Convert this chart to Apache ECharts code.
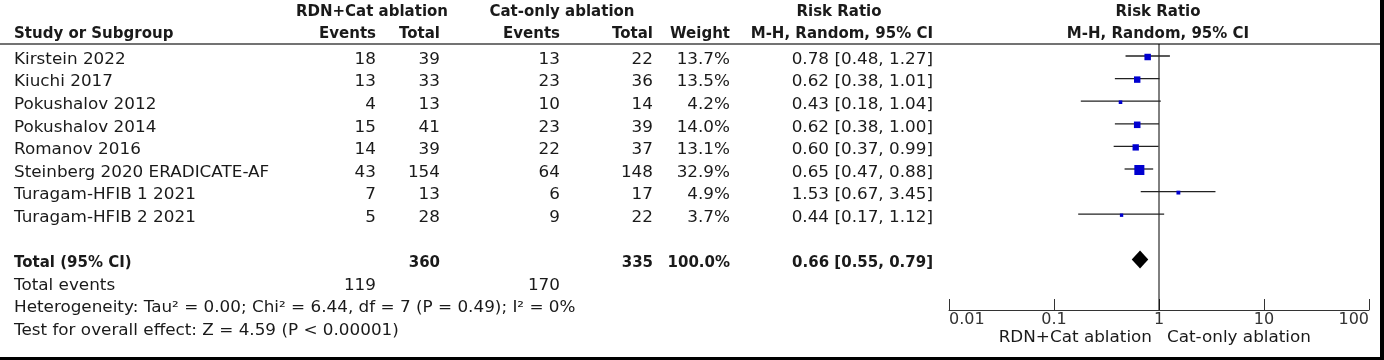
<!DOCTYPE html>
<html><head><meta charset="utf-8">
<script src="https://cdn.jsdelivr.net/npm/echarts@6/dist/echarts.min.js"></script>
<style>html,body{margin:0;padding:0;background:#fff}#c{width:1384px;height:360px}</style>
</head><body><div id="c"></div>
<script>
// ---------- data ----------
const studies = ['Kirstein 2022','Kiuchi 2017','Pokushalov 2012','Pokushalov 2014','Romanov 2016','Steinberg 2020 ERADICATE-AF','Turagam-HFIB 1 2021','Turagam-HFIB 2 2021'];
const rdnEvents = [18,13,4,15,14,43,7,5];
const rdnTotal  = [39,33,13,41,39,154,13,28];
const catEvents = [13,23,10,23,22,64,6,9];
const catTotal  = [22,36,14,39,37,148,17,22];
const weights   = [13.7,13.5,4.2,14.0,13.1,32.9,4.9,3.7];
const rr        = [0.78,0.62,0.43,0.62,0.60,0.65,1.53,0.44];
const ciLow     = [0.48,0.38,0.18,0.38,0.37,0.47,0.67,0.17];
const ciHigh    = [1.27,1.01,1.04,1.00,0.99,0.88,3.45,1.12];
const totalRow  = {rdnTotal:360, catTotal:335, weight:100.0, rr:0.66, lo:0.55, hi:0.79};
const totalEvents = [119,170];
const heterogeneity = 'Heterogeneity: Tau² = 0.00; Chi² = 6.44, df = 7 (P = 0.49); I² = 0%';
const overallTest = 'Test for overall effect: Z = 4.59 (P < 0.00001)';
const tickLabels = ['0.01','0.1','1','10','100'];
const favours = ['RDN+Cat ablation','Cat-only ablation'];

// ---------- layout ----------
const FONT = 'DejaVu Sans';
const TXT = '#1a1a1a';
const COL = {name:14, rdnE:376, rdnT:440, catE:560, catT:653, w:730, ci:933};
const TOFF = 4; // text offset below mark line
const fmt2 = v => v.toFixed(2);
const ciText = (r,l,h) => fmt2(r)+' ['+fmt2(l)+', '+fmt2(h)+']';

function txt(x,y,s,align,bold){
  return {type:'text', x:x, y:y, scaleX: bold?1.0:1.12,
    style:{text:String(s), x:0, y:0, fill:TXT,
      font:(bold?'bold 15px':'15px')+' "'+FONT+'"',
      textAlign:align||'left', textVerticalAlign:'middle'}};
}

const chart = echarts.init(document.getElementById('c'));
const rowIdx = studies.map((s,i)=>i);

chart.setOption({
  animation:false,
  grid:{left:949, right:15, top:0, height:310},
  xAxis:{type:'log', logBase:10, min:0.01, max:100,
    axisLine:{onZero:false, lineStyle:{color:'#333', width:1}},
    axisTick:{inside:true, length:11, lineStyle:{color:'#333'}},
    axisLabel:{fontFamily:FONT, fontSize:16, color:'#333', margin:2,
      alignMinLabel:'left', alignMaxLabel:'right',
      formatter:v=>tickLabels[Math.round(Math.log10(v))+2]},
    splitLine:{show:false}},
  yAxis:{type:'value', inverse:true, min:-2.478, max:11.239, show:false},
  series:[
    // reference line at RR = 1
    {type:'line', data:[[1,-0.531],[1,11.239]], symbol:'none', silent:true,
     lineStyle:{color:'#000', width:1}, z:1},
    // study CI lines and weight squares
    {type:'custom', z:3, clip:false,
     data: rowIdx.map(i=>[rr[i], i, ciLow[i], ciHigh[i], weights[i]]),
     renderItem:(p,api)=>{
       const i = api.value(1);
       const a = api.coord([api.value(2), i]);
       const b = api.coord([api.value(3), i]);
       const c = api.coord([api.value(0), i]);
       const s = 1.75*Math.sqrt(api.value(4));
       return {type:'group', children:[
         {type:'line', shape:{x1:a[0],y1:a[1],x2:b[0],y2:b[1]}, style:{stroke:'#222', lineWidth:1.3}},
         {type:'rect', shape:{x:c[0]-s/2, y:c[1]-s/2+1, width:s, height:s}, style:{fill:'#0000d0'}}
       ]};
     }},
    // pooled diamond
    {type:'custom', z:3, clip:false,
     data:[[totalRow.rr, 9, totalRow.lo, totalRow.hi]],
     renderItem:(p,api)=>{
       const l = api.coord([api.value(2), api.value(1)]);
       const h = api.coord([api.value(3), api.value(1)]);
       const c = api.coord([api.value(0), api.value(1)]);
       return {type:'polygon', shape:{points:[[l[0],c[1]],[c[0],c[1]-9],[h[0],c[1]],[c[0],c[1]+9]]}, style:{fill:'#000'}};
     }},
    // table rows
    {type:'custom', z:4, clip:false,
     data: rowIdx.map(i=>[1,i]),
     renderItem:(p,api)=>{
       const i = api.value(1);
       const y = api.coord([1,i])[1] + TOFF;
       return {type:'group', children:[
         txt(COL.name,y,studies[i],'left'),
         txt(COL.rdnE,y,rdnEvents[i],'right'),
         txt(COL.rdnT,y,rdnTotal[i],'right'),
         txt(COL.catE,y,catEvents[i],'right'),
         txt(COL.catT,y,catTotal[i],'right'),
         txt(COL.w,y,weights[i].toFixed(1)+'%','right'),
         txt(COL.ci,y,ciText(rr[i],ciLow[i],ciHigh[i]),'right')
       ]};
     }},
    // totals and footer rows
    {type:'custom', z:4, clip:false,
     data:[[1,9],[1,10],[1,11],[1,12]],
     renderItem:(p,api)=>{
       const r = api.value(1);
       const y = api.coord([1,r])[1] + TOFF;
       if (r===9) return {type:'group', children:[
         txt(COL.name,y,'Total (95% CI)','left',true),
         txt(COL.rdnT,y,totalRow.rdnTotal,'right',true),
         txt(COL.catT,y,totalRow.catTotal,'right',true),
         txt(COL.w,y,totalRow.weight.toFixed(1)+'%','right',true),
         txt(COL.ci,y,ciText(totalRow.rr,totalRow.lo,totalRow.hi),'right',true)
       ]};
       if (r===10) return {type:'group', children:[
         txt(COL.name,y,'Total events','left'),
         txt(COL.rdnE,y,totalEvents[0],'right'),
         txt(COL.catE,y,totalEvents[1],'right')
       ]};
       if (r===11) return txt(COL.name,y,heterogeneity,'left');
       return txt(COL.name,y,overallTest,'left');
     }}
  ],
  graphic:[
    {type:'line', shape:{x1:0,y1:44,x2:1380,y2:44}, style:{stroke:'#444', lineWidth:1.5}},
    {type:'rect', shape:{x:1380,y:0,width:4,height:360}, style:{fill:'#000'}},
    {type:'rect', shape:{x:0,y:357,width:1384,height:3}, style:{fill:'#000'}},
    txt(372,12,'RDN+Cat ablation','center',true),
    txt(562,12,'Cat-only ablation','center',true),
    txt(839,12,'Risk Ratio','center',true),
    txt(1158,12,'Risk Ratio','center',true),
    txt(14,34,'Study or Subgroup','left',true),
    txt(COL.rdnE,34,'Events','right',true),
    txt(COL.rdnT,34,'Total','right',true),
    txt(COL.catE,34,'Events','right',true),
    txt(COL.catT,34,'Total','right',true),
    txt(COL.w,34,'Weight','right',true),
    txt(COL.ci,34,'M-H, Random, 95% CI','right',true),
    txt(1158,34,'M-H, Random, 95% CI','center',true),
    txt(1152,338,favours[0],'right'),
    txt(1167,338,favours[1],'left')
  ]
});
</script></body></html>
